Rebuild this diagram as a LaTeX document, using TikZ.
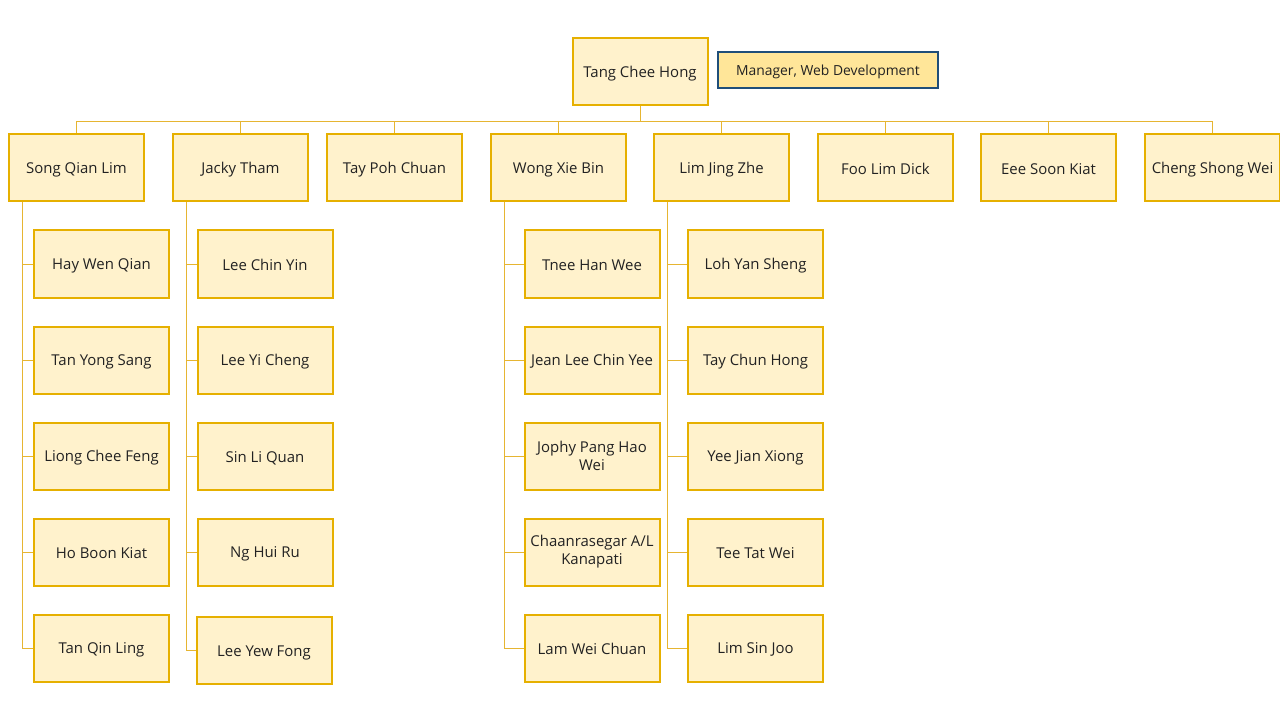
\documentclass[tikz,border=0pt]{standalone}
\usepackage{fontspec}
\setmainfont{Open Sans}
\definecolor{boxfill}{HTML}{FFF2CC}
\definecolor{boxline}{HTML}{E6B000}
\definecolor{conline}{HTML}{E6B532}
\definecolor{lblfill}{HTML}{FFE699}
\definecolor{lblline}{HTML}{1F4E79}
\definecolor{txt}{HTML}{222222}
\newcommand{\mystrut}{\rule[-1pt]{0pt}{12pt}}
\newcommand{\lblstrut}{\rule{0pt}{9.5pt}}
\begin{document}
\begin{tikzpicture}[x=0.75pt,y=-0.75pt,
  person/.style={draw=boxline,fill=boxfill,line width=1.5pt,minimum width=101.25pt,minimum height=50.25pt,
    align=center,inner sep=1pt,font=\fontsize{11.2pt}{13.5pt}\selectfont,text=txt,
    execute at begin node=\mystrut, execute at end node=\mystrut},
  lbl/.style={draw=lblline,fill=lblfill,line width=1.5pt,minimum width=165.5pt,minimum height=27pt,
    inner sep=1pt,font=\fontsize{10.4pt}{12pt}\selectfont,text=txt,
    execute at begin node=\lblstrut},
  con/.style={draw=conline,line width=0.75pt}]
\useasboundingbox (0,0) rectangle (1280,720);
\node[person] (top) at (640,71.5) {Tang Chee Hong};
\node[lbl] (title) at (828,70.5) {Manager, Web Development};
% level 2
\node[person] (a) at (76.5,168) {Song Qian Lim};
\node[person] (b) at (240.5,168) {Jacky Tham};
\node[person] (c) at (394.5,168) {Tay Poh Chuan};
\node[person] (d) at (558.5,168) {Wong Xie Bin};
\node[person] (e) at (721.5,168) {Lim Jing Zhe};
\node[person] (f) at (885.5,168) {Foo Lim Dick};
\node[person] (g) at (1048.5,168) {Eee Soon Kiat};
\node[person] (h) at (1212.5,168) {Cheng Shong Wei};
\foreach \n in {a,b,c,d,e,f,g,h}{
  \draw[con] (top.south) -- ++(0,16) -| (\n.north);
}
% children of a
\node[person] (a1) at (101.5,264) {Hay Wen Qian};
\node[person] (a2) at (101.5,360) {Tan Yong Sang};
\node[person] (a3) at (101.5,456) {Liong Chee Feng};
\node[person] (a4) at (101.5,552) {Ho Boon Kiat};
\node[person] (a5) at (101.5,648) {Tan Qin Ling};
% children of b
\node[person] (b1) at (265,264) {Lee Chin Yin};
\node[person] (b2) at (265,360) {Lee Yi Cheng};
\node[person] (b3) at (265,456) {Sin Li Quan};
\node[person] (b4) at (265,552) {Ng Hui Ru};
\node[person] (b5) at (264,650.5) {Lee Yew Fong};
% children of d
\node[person] (d1) at (592,264) {Tnee Han Wee};
\node[person] (d2) at (592,360) {Jean Lee Chin Yee};
\node[person] (d3) at (592,456) {Jophy Pang Hao\\Wei};
\node[person] (d4) at (592,552) {Chaanrasegar A/L\\Kanapati};
\node[person] (d5) at (592,648) {Lam Wei Chuan};
% children of e
\node[person] (e1) at (755.5,264) {Loh Yan Sheng};
\node[person] (e2) at (755.5,360) {Tay Chun Hong};
\node[person] (e3) at (755.5,456) {Yee Jian Xiong};
\node[person] (e4) at (755.5,552) {Tee Tat Wei};
\node[person] (e5) at (755.5,648) {Lim Sin Joo};
\foreach \p in {a,b,d,e}{
  \foreach \k in {1,...,5}{
    \draw[con] (\p.south west) ++(14,0) |- (\p\k.west);
  }
}
\end{tikzpicture}
\end{document}
